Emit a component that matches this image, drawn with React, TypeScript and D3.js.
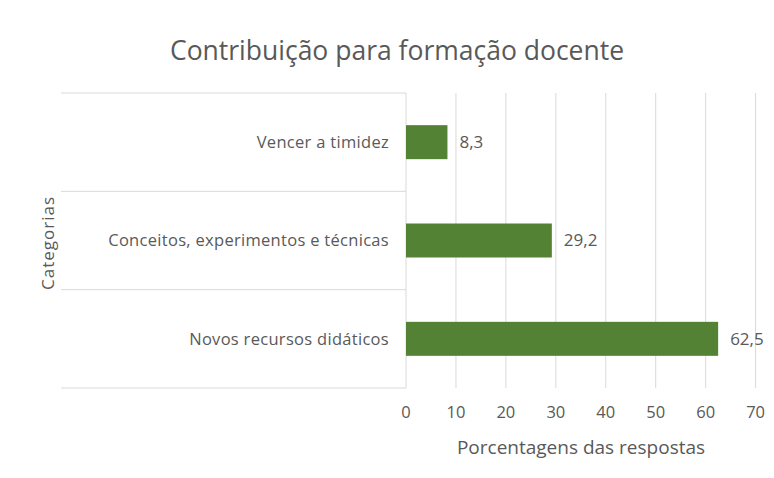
import React from "react";
import * as d3 from "d3";

const categories = ["Vencer a timidez", "Conceitos, experimentos e técnicas", "Novos recursos didáticos"];
const values = [8.3, 29.2, 62.5];
const valueLabels = ["8,3", "29,2", "62,5"];
const xTicks = [0, 10, 20, 30, 40, 50, 60, 70];
const title = "Contribuição para formação docente";
const xTitle = "Porcentagens das respostas";
const yTitle = "Categorias";

export default function App() {
  const W = 774, H = 478;
  const left = 406, right = 755.6, top = 93, bottom = 388, catLeft = 61;
  const x = d3.scaleLinear().domain([0, 70]).range([left, right]);
  const y = d3.scaleBand().domain(categories).range([top, bottom]).paddingInner(0).paddingOuter(0);
  const barH = 34;
  const font = "'Open Sans', sans-serif";
  const txt = "#595959";
  const grid = "#d9d9d9";
  const bandEdges = [top, ...categories.map((c) => (y(c) as number) + y.bandwidth())];
  return (
    <svg width={W} height={H} style={{ position: "absolute", left: 0, top: 0, background: "#fff" }}>
      <text x={397} y={51} dy="0.35em" textAnchor="middle" fontFamily={font} fontSize={26.5} fill={txt}>{title}</text>
      {xTicks.map((t) => (
        <line key={"g" + t} x1={x(t)} x2={x(t)} y1={top} y2={bottom} stroke={grid} strokeWidth={1} />
      ))}
      {bandEdges.map((e, i) => (
        <line key={"b" + i} x1={catLeft} x2={left} y1={e} y2={e} stroke={grid} strokeWidth={1} />
      ))}
      {categories.map((c, i) => {
        const cy = (y(c) as number) + y.bandwidth() / 2;
        return (
          <g key={c}>
            <rect x={x(0)} y={cy - barH / 2} width={x(values[i]) - x(0)} height={barH} fill="#548235" />
            <text x={389} y={cy} dy="0.35em" textAnchor="end" fontFamily={font} fontSize={16.5} letterSpacing={0.3} fill={txt}>{c}</text>
            <text x={x(values[i]) + 12} y={cy} dy="0.35em" textAnchor="start" fontFamily={font} fontSize={17} fill={txt}>{valueLabels[i]}</text>
          </g>
        );
      })}
      {xTicks.map((t) => (
        <text key={"t" + t} x={x(t)} y={412} dy="0.35em" textAnchor="middle" fontFamily={font} fontSize={16.5} fill={txt}>{t}</text>
      ))}
      <text x={581} y={447} dy="0.35em" textAnchor="middle" fontFamily={font} fontSize={19} fill={txt}>{xTitle}</text>
      <text transform={`translate(48,${243}) rotate(-90)`} textAnchor="middle" dy="0.35em" fontFamily={font} fontSize={17} letterSpacing={1} fill={txt}>{yTitle}</text>
    </svg>
  );
}
